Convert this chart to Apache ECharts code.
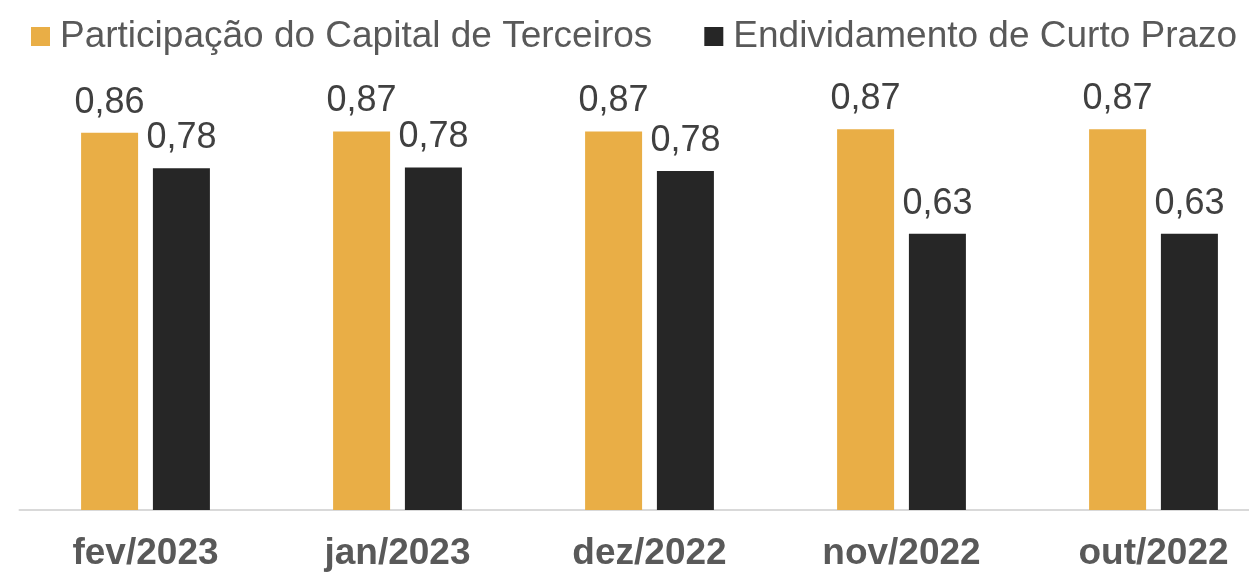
<!DOCTYPE html>
<html>
<head>
<meta charset="utf-8">
<script src="https://cdn.jsdelivr.net/npm/echarts@6/dist/echarts.min.js"></script>
<style>
  html, body { margin: 0; padding: 0; background: #fff; overflow: hidden; }
  /* a bit wider than the window so the last category runs off the right edge like the original */
  #chartDiv { width: 1280px; height: 573px; }
</style>
</head>
<body>
<div id="chartDiv"></div>
<script type="text/javascript">
  // months, newest first
  var months = ['fev/2023', 'jan/2023', 'dez/2022', 'nov/2022', 'out/2022'];
  var capitalTerceiros = [0.863, 0.866, 0.866, 0.871, 0.871];
  var curtoPrazo = [0.782, 0.784, 0.776, 0.632, 0.632];
  var seriesNames = ['Participação do Capital de Terceiros', 'Endividamento de Curto Prazo'];

  var chart = echarts.init(document.getElementById('chartDiv'), null, { renderer: 'canvas' });

  // values shown with comma decimal, two places
  function labelFmt(p) {
    return p.value.toFixed(2).replace('.', ',');
  }

  var valueLabel = {
    show: true,
    position: 'top',
    distance: 12,
    formatter: labelFmt,
    fontFamily: 'Liberation Sans, Arial, sans-serif',
    fontSize: 36,
    color: '#404040'
  };

  var option = {
    animation: false,
    textStyle: { fontFamily: 'Liberation Sans, Arial, sans-serif' },
    legend: {
      left: 26,
      top: 13,
      itemWidth: 19,
      itemHeight: 19,
      itemGap: 52,
      icon: 'rect',
      textStyle: { fontSize: 37, color: '#595959', padding: [0, 0, 0, 5] },
      data: seriesNames
    },
    grid: {
      left: 19.5,
      right: 0.5,
      top: 73,
      bottom: 63
    },
    xAxis: {
      type: 'category',
      data: months,
      axisLine: { lineStyle: { color: '#d9d9d9', width: 2 } },
      axisTick: { show: false },
      axisLabel: {
        margin: 25,
        fontSize: 37,
        fontWeight: 'bold',
        color: '#595959'
      }
    },
    yAxis: {
      type: 'value',
      min: 0,
      max: 1,
      show: false,
      splitLine: { show: false }
    },
    series: [
      {
        name: seriesNames[0],
        type: 'bar',
        data: capitalTerceiros,
        barWidth: 57,
        barGap: '26%',
        itemStyle: { color: '#E9AE46' },
        label: valueLabel
      },
      {
        name: seriesNames[1],
        type: 'bar',
        data: curtoPrazo,
        barWidth: 57,
        itemStyle: { color: '#262626' },
        label: valueLabel
      }
    ]
  };
  chart.setOption(option);
</script>
</body>
</html>
